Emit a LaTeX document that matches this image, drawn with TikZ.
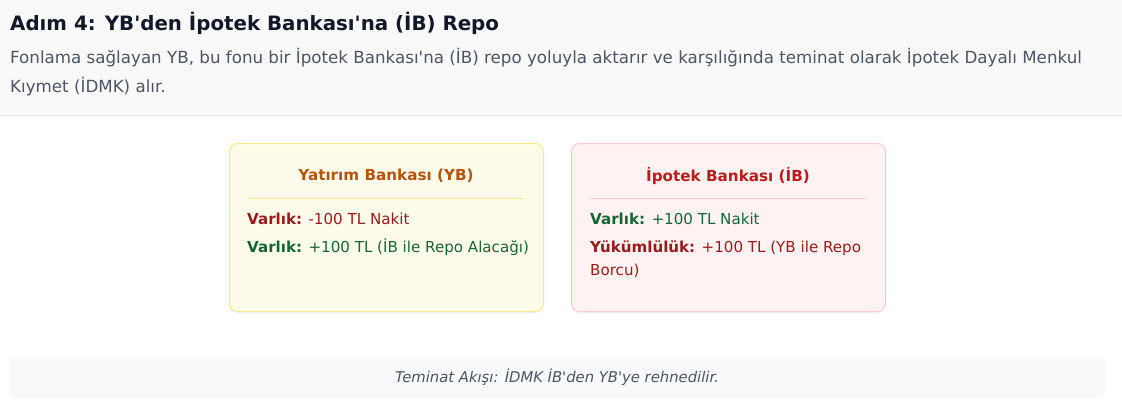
\documentclass[tikz,border=0pt]{standalone}
\usepackage{fontspec}
\newfontfamily\uifont{DejaVu Sans}
\definecolor{ink}{HTML}{111827}
\definecolor{muted}{HTML}{4B5563}
\definecolor{headbg}{HTML}{F9F9F9}
\definecolor{headline}{HTML}{E5E7EB}
\definecolor{ybfill}{HTML}{FFFBEB}
\definecolor{ybborder}{HTML}{FDE68A}
\definecolor{ybtitle}{HTML}{B45309}
\definecolor{ibfill}{HTML}{FEF2F2}
\definecolor{ibborder}{HTML}{FECACA}
\definecolor{ibtitle}{HTML}{B91C1C}
\definecolor{minus}{HTML}{991B1B}
\definecolor{plus}{HTML}{166534}
\definecolor{notebg}{HTML}{F8F9FA}
\tikzset{
  panel/.style={draw=#1border, fill=#1fill, line width=1pt, rounded corners=8pt,
    minimum width=314pt, minimum height=168pt, anchor=north west, inner sep=0pt},
  boxtitle/.style={font=\bfseries\fontsize{15.2}{20}\selectfont, inner sep=0pt},
  entry/.style={font=\fontsize{15.1}{18}\selectfont, anchor=base west, inner sep=0pt},
  desc/.style={font=\fontsize{16.7}{19}\selectfont, text=muted, anchor=base west, inner sep=0pt}
}
\begin{document}
\uifont
\begin{tikzpicture}[x=1pt,y=-1pt]
  \useasboundingbox (0,0) rectangle (1122,413);
  \fill[white] (0,0) rectangle (1122,413);
  % header
  \fill[headbg] (0,0) rectangle (1122,115);
  \draw[headline] (0,115.5) -- (1122,115.5);
  \node[anchor=base west, inner sep=0pt, text=ink, font=\bfseries\fontsize{19.8}{24}\selectfont] (title) at (10,30) {Adım 4: YB'den İpotek Bankası'na (İB) Repo};
  \node[desc] (desc1) at (10,63) {Fonlama sağlayan YB, bu fonu bir İpotek Bankası'na (İB) repo yoluyla aktarır ve karşılığında teminat olarak İpotek Dayalı Menkul};
  \node[desc] (desc2) at (10,92) {Kıymet (İDMK) alır.};
  % shadows
  \fill[black, opacity=.05, rounded corners=8pt] (229,145) rectangle (543,313);
  \fill[black, opacity=.05, rounded corners=8pt] (571,145) rectangle (885,313);
  % Yatirim Bankasi
  \node[panel=yb] (yb) at (229,143) {};
  \node[boxtitle, text=ybtitle] (ybhead) at (386,176) {Yatırım Bankası (YB)};
  \draw[ybborder] (247,198.5) -- (523,198.5);
  \node[entry, text=minus] (yb1) at (247,224.5) {\textbf{Varlık:} -100 TL Nakit};
  \node[entry, text=plus] (yb2) at (247,252.5) {\textbf{Varlık:} +100 TL (İB ile Repo Alacağı)};
  % Ipotek Bankasi
  \node[panel=ib] (ib) at (571,143) {};
  \node[boxtitle, text=ibtitle] (ibhead) at (728,176) {İpotek Bankası (İB)};
  \draw[ibborder] (590,198.5) -- (866,198.5);
  \node[entry, text=plus] (ib1) at (590,224.5) {\textbf{Varlık:} +100 TL Nakit};
  \node[entry, text=minus] (ib2) at (590,252.5) {\textbf{Yükümlülük:} +100 TL (YB ile Repo};
  \node[entry, text=minus] (ib3) at (590,275.5) {Borcu)};
  % teminat
  \node[fill=notebg, rounded corners=6pt, minimum width=1096pt, minimum height=41pt, inner sep=0pt,
    text=muted, font=\itshape\fontsize{14.8}{17}\selectfont] (note) at (557,377.5) {Teminat Akışı: İDMK İB'den YB'ye rehnedilir.};
\end{tikzpicture}
\end{document}
